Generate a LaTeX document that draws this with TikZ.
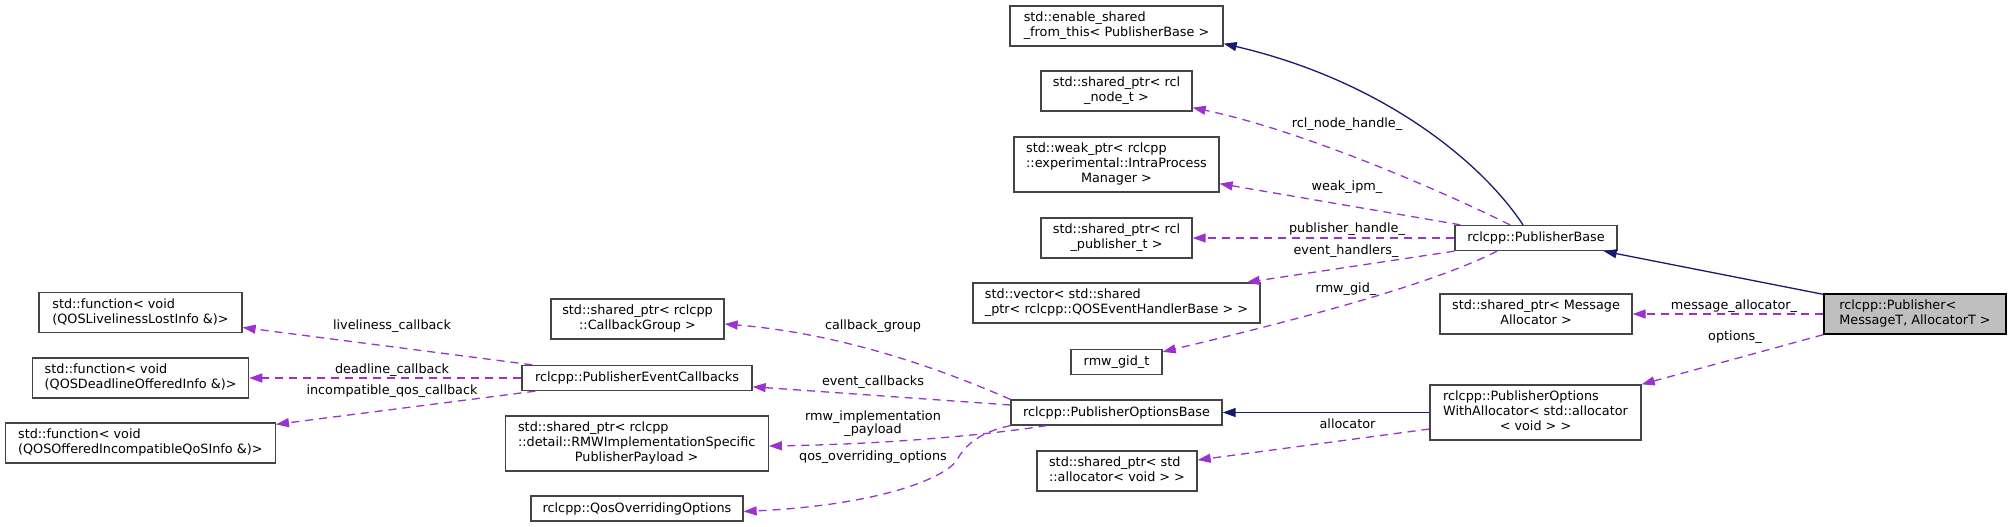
\documentclass[tikz,border=0pt]{standalone}
\usepackage{fontspec}
\setmainfont{DejaVu Sans}
\usetikzlibrary{arrows.meta}
\definecolor{dep}{HTML}{9A32CD}
\definecolor{inh}{HTML}{191970}
\definecolor{bord}{HTML}{444444}
\definecolor{pubfill}{HTML}{BFBFBF}
\newcommand{\onel}[1]{#1}
\newcommand{\twol}[2]{\begin{tabular}{@{}l@{}}#1\\\multicolumn{1}{@{}c@{}}{#2}\end{tabular}}
\newcommand{\threel}[3]{\begin{tabular}{@{}l@{}}#1\\#2\\\multicolumn{1}{@{}c@{}}{#3}\end{tabular}}
\tikzset{
  box/.style={draw=bord, line width=1.3pt, inner sep=0pt, fill=white, font=\fontsize{12.8}{15}\selectfont},
  pubbox/.style={box, draw=black, fill=pubfill},
  lbl/.style={inner sep=0pt, font=\fontsize{12.8}{15}\selectfont},
  dep/.style={draw=dep, line width=1.3pt, dash pattern=on 8pt off 6pt, -{Triangle[length=13pt,width=9pt]}},
  inh/.style={draw=inh, line width=1.3pt, -{Triangle[length=13pt,width=9pt]}}
}
\begin{document}
\begin{tikzpicture}[x=1pt,y=-1pt]
\useasboundingbox (0,0) rectangle (2011,527);
% nodes
\node[box, minimum width=213pt, minimum height=40pt] (ESF) at (1116.5,26) {\twol{std::enable\_shared}{\_from\_this< PublisherBase >}};
\node[box, minimum width=151pt, minimum height=40pt] (NODE) at (1116.5,91) {\twol{std::shared\_ptr< rcl}{\_node\_t >}};
\node[box, minimum width=205pt, minimum height=55pt] (IPM) at (1116.5,164.5) {\threel{std::weak\_ptr< rclcpp}{::experimental::IntraProcess}{Manager >}};
\node[box, minimum width=151pt, minimum height=40pt] (PUBH) at (1116.5,238) {\twol{std::shared\_ptr< rcl}{\_publisher\_t >}};
\node[box, minimum width=287pt, minimum height=40pt] (EVH) at (1116.5,303) {\twol{std::vector< std::shared}{\_ptr< rclcpp::QOSEventHandlerBase > >}};
\node[box, minimum width=91pt, minimum height=25pt] (GID) at (1116.5,362) {rmw\_gid\_t};
\node[box, minimum width=162pt, minimum height=25pt] (PB) at (1536,238) {rclcpp::PublisherBase};
\node[box, minimum width=192pt, minimum height=40pt] (MSGA) at (1536,314) {\twol{std::shared\_ptr< Message}{Allocator >}};
\node[pubbox, minimum width=182pt, minimum height=40pt] (PUB) at (1915,314) {\twol{rclcpp::Publisher<}{ MessageT, AllocatorT >}};
\node[box, minimum width=211pt, minimum height=55pt] (POWA) at (1535.5,412.5) {\threel{rclcpp::PublisherOptions}{WithAllocator< std::allocator}{< void > >}};
\node[box, minimum width=211pt, minimum height=25pt] (POB) at (1116.5,412.5) {rclcpp::PublisherOptionsBase};
\node[box, minimum width=160pt, minimum height=40pt] (STDA) at (1117,471) {\twol{std::shared\_ptr< std}{::allocator< void > >}};
\node[box, minimum width=173pt, minimum height=40pt] (CBG) at (637.5,319) {\twol{std::shared\_ptr< rclcpp}{::CallbackGroup >}};
\node[box, minimum width=230pt, minimum height=25pt] (PEC) at (637,378) {rclcpp::PublisherEventCallbacks};
\node[box, minimum width=203pt, minimum height=40pt] (LIV) at (140.5,312.5) {\twol{std::function< void}{(QOSLivelinessLostInfo \&)>}};
\node[box, minimum width=216pt, minimum height=40pt] (DL) at (140.6,378) {\twol{std::function< void}{(QOSDeadlineOfferedInfo \&)>}};
\node[box, minimum width=270pt, minimum height=40pt] (INC) at (140.3,443) {\twol{std::function< void}{(QOSOfferedIncompatibleQoSInfo \&)>}};
\node[box, minimum width=263pt, minimum height=55pt] (RMWP) at (636.7,443.5) {\threel{std::shared\_ptr< rclcpp}{::detail::RMWImplementationSpecific}{PublisherPayload >}};
\node[box, minimum width=212pt, minimum height=25pt] (QOO) at (637,508.5) {rclcpp::QosOverridingOptions};
% inheritance
\draw[inh] ([xshift=-13pt]PB.north) .. controls (1480,160) and (1380,80) .. ([yshift=3pt]ESF.south east);
\draw[inh] ([yshift=-1pt]PUB.north west) -- ([xshift=-14pt]PB.south east);
\draw[inh] (POWA.west) -- (POB.east);
% members of PublisherBase
\draw[dep] ([xshift=-26pt]PB.north) .. controls (1440,190) and (1300,130) .. ([yshift=4pt]NODE.south east);
\draw[dep] ([xshift=6pt]PB.north west) -- ([yshift=9pt]IPM.south east);
\draw[dep] (PB.west) -- (PUBH.east);
\draw[dep] (PB.south west) -- ([xshift=-14pt]EVH.north east);
\draw[dep] ([xshift=-39pt]PB.south) .. controls (1450,275) and (1360,305) .. ([yshift=-3pt]GID.north east);
% members of Publisher
\draw[dep] (PUB.west) -- (MSGA.east);
\draw[dep] (PUB.south west) -- (POWA.north east);
% members of options
\draw[dep] ([yshift=-16.5pt]POWA.west) -- ([yshift=11pt]STDA.east);
\draw[dep] (POB.north west) .. controls (970,382) and (860,335) .. ([yshift=-5pt]CBG.east);
\draw[dep] ([yshift=7.5pt]POB.west) -- ([yshift=-8.75pt]PEC.east);
\draw[dep] ([xshift=-70pt]POB.south) .. controls (1000,433) and (900,444) .. ([yshift=-2.5pt]RMWP.east);
\draw[dep] (POB.south west) .. controls (980,432) and (965,445) .. (957,460) .. controls (945,478) and (880,505) .. ([yshift=-3pt]QOO.east);
% members of event callbacks
\draw[dep] ([xshift=11pt]PEC.north west) -- ([yshift=-15pt]LIV.east);
\draw[dep] (PEC.west) -- (DL.east);
\draw[dep] ([xshift=14pt]PEC.south west) -- ([yshift=-2pt]INC.north east);
% labels
\node[lbl] (l1) at (1347,124) {rcl\_node\_handle\_};
\node[lbl] (l2) at (1347,187) {weak\_ipm\_};
\node[lbl] (l3) at (1347,229) {publisher\_handle\_};
\node[lbl] (l4) at (1346,251) {event\_handlers\_};
\node[lbl] (l5) at (1346,289) {rmw\_gid\_};
\node[lbl] (l6) at (1734,306) {message\_allocator\_};
\node[lbl] (l7) at (1735,337) {options\_};
\node[lbl] (l8) at (1347.5,424) {allocator};
\node[lbl] (l9) at (873,326) {callback\_group};
\node[lbl] (l10) at (873,382) {event\_callbacks};
\node[lbl, align=center] (l11) at (873,423.5) {rmw\_implementation\\[-2pt]\_payload};
\node[lbl] (l12) at (873,457.3) {qos\_overriding\_options};
\node[lbl] (l13) at (392,326) {liveliness\_callback};
\node[lbl] (l14) at (392,370) {deadline\_callback};
\node[lbl] (l15) at (392,391) {incompatible\_qos\_callback};
\end{tikzpicture}
\end{document}
